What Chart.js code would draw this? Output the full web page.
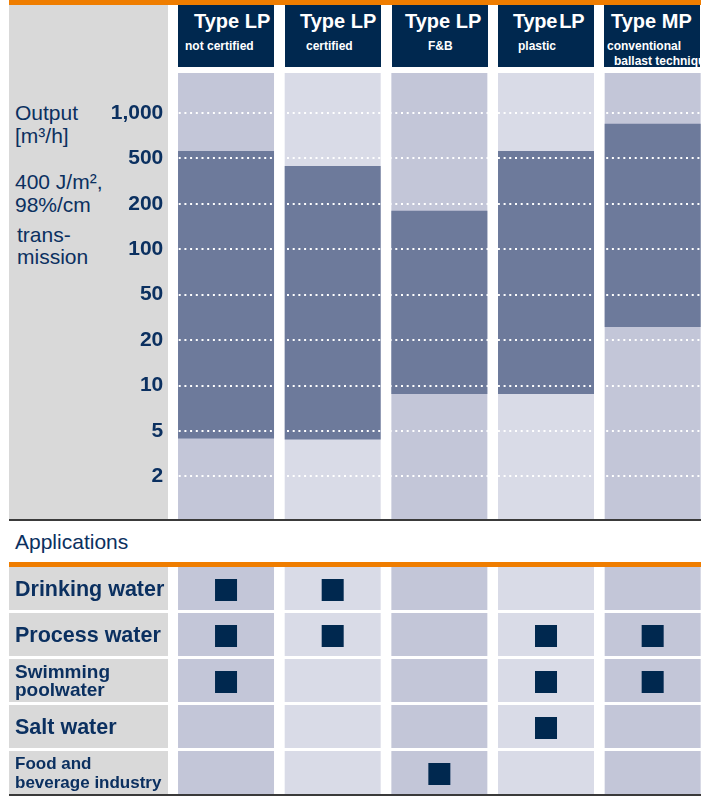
<!DOCTYPE html>
<html lang="en">
<head>
    <meta charset="UTF-8">
    <title>UV systems - output and applications</title>
    <script src="https://cdn.jsdelivr.net/npm/chart.js"></script>
    <style>
        body {
            margin: 0;
            padding: 0;
            background: #fff;
            overflow: hidden;
            font-family: "Liberation Sans", Arial, sans-serif;
            color: #0b3060;
        }
        .page {
            position: relative;
            width: 706px;
            height: 796px;
        }
        .abs { position: absolute; }
        .orange { background: #ef7d00; }
        .rule { background: #3a3a3a; }
        .panel { background: #d9d9d9; }
        .head {
            position: absolute;
            top: 5px;
            width: 96px;
            height: 62px;
            background: #00284f;
            color: #fff;
            font-weight: bold;
        }
        .head .t {
            position: absolute;
            top: 5.5px;
            font-size: 20px;
            line-height: 20px;
            white-space: nowrap;
        }
        .head .s {
            position: absolute;
            top: 34px;
            font-size: 12px;
            line-height: 15px;
            white-space: nowrap;
        }
        .ytitle {
            position: absolute;
            font-size: 21px;
            line-height: 23px;
            white-space: nowrap;
        }
        canvas { position: absolute; left: 0; }
    </style>
</head>
<body>
<div class="page">
    <div class="abs orange" style="left:9px; top:0; width:697px; height:5px;"></div>
    <div class="abs panel" style="left:9px; top:5px; width:159px; height:514px;"></div>

    <div class="head" style="left:178px;"><div class="t" style="left:16px;">Type LP</div><div class="s" style="left:7px;">not certified</div></div>
    <div class="head" style="left:285px;"><div class="t" style="left:15px;">Type LP</div><div class="s" style="left:21px;">certified</div></div>
    <div class="head" style="left:392px;"><div class="t" style="left:13px;">Type LP</div><div class="s" style="left:36px;">F&amp;B</div></div>
    <div class="head" style="left:498px;"><div class="t" style="left:15px; word-spacing:-3px; letter-spacing:-0.3px;">Type LP</div><div class="s" style="left:20px;">plastic</div></div>
    <div class="head" style="left:604px;"><div class="t" style="left:7px;">Type MP</div><div class="s" style="left:3px;">conventional<br><span style="padding-left:7px;">ballast technique</span></div></div>

    <div class="ytitle" style="left:15px; top:101px;">Output</div>
    <div class="ytitle" style="left:15px; top:124px;">[m³/h]</div>
    <div class="ytitle" style="left:15px; top:170px;">400 J/m²,</div>
    <div class="ytitle" style="left:15px; top:193px;">98%/cm</div>
    <div class="ytitle" style="left:17px; top:223px;">trans-</div>
    <div class="ytitle" style="left:17px; top:245px;">mission</div>

    <canvas id="outputChart" width="706" height="447" style="top:73px;"></canvas>
    <div class="abs rule" style="left:9px; top:519px; width:697px; height:2px;"></div>

    <div class="ytitle" style="left:15px; top:530px;">Applications</div>
    <div class="abs orange" style="left:9px; top:562px; width:697px; height:5px;"></div>

    <canvas id="appChart" width="706" height="230" style="top:567px;"></canvas>
    <div class="abs rule" style="left:9px; top:794px; width:697px; height:2px;"></div>
</div>

<script>
    // systems (columns)
    const typeKeys = ["LP not certified", "LP certified", "LP F&B", "LP plastic", "MP conventional"];

    // output range per system [m3/h]
    const outputLow = [4.3, 4.2, 8.8, 8.8, 26];
    const outputHigh = [560, 430, 180, 560, 850];

    // y axis ticks (equally spaced 1-2-5 steps)
    const tickValues = [1000, 500, 200, 100, 50, 20, 10, 5, 2];
    const tickLabels = ["1,000", "500", "200", "100", "50", "20", "10", "5", "2"];

    // applications (rows) and which system suits them
    const appKeys = ["Drinking water", "Process water", "Swimming poolwater", "Salt water", "Food and beverage industry"];
    const appLines = [["Drinking water"], ["Process water"], ["Swimming", "poolwater"], ["Salt water"], ["Food and", "beverage industry"]];
    const drinkingWater = [1, 1, 0, 0, 0];
    const processWater = [1, 1, 0, 1, 1];
    const swimmingPool = [1, 0, 0, 1, 1];
    const saltWater = [0, 0, 0, 1, 0];
    const foodBeverage = [0, 0, 1, 0, 0];

    const navy = "#00284f";
    const textNavy = "#0b3060";
    const colShades = ["#c3c6d8", "#d9dbe7", "#c3c6d8", "#d9dbe7", "#c3c6d8"];
    const barDark = "#6d7a9b";
    const fontFamily = '"Liberation Sans", Arial, sans-serif';
    const appFontSizes = [21.5, 21.5, 19, 21.5, 17];
    const appLineHeights = [1.2, 1.2, 0.96, 1.2, 1.1];

    // the axis puts 1-2-5 steps at equal distances, so map a value to its step
    function toStep(v) {
        const ext = [2000].concat(tickValues, [1]);
        for (let i = 0; i < ext.length - 1; i++) {
            if (v <= ext[i] && v >= ext[i + 1]) {
                return (i - 1) + Math.log(ext[i] / v) / Math.log(ext[i] / ext[i + 1]);
            }
        }
        return v > ext[0] ? -1 : ext.length - 2;
    }

    const yMin = -0.88;
    const yMax = 8.96;
    const axisWidth = 172.7;

    new Chart(document.getElementById("outputChart"), {
        type: "bar",
        data: {
            labels: typeKeys,
            datasets: [
                {
                    data: typeKeys.map((_, i) => [toStep(outputLow[i]), toStep(outputHigh[i])]),
                    backgroundColor: barDark,
                    order: 0
                },
                {
                    data: typeKeys.map(() => [yMin, yMax]),
                    backgroundColor: colShades,
                    order: 1
                }
            ]
        },
        options: {
            responsive: false,
            animation: false,
            events: [],
            layout: { padding: 0 },
            datasets: {
                bar: { grouped: false, barPercentage: 0.9, categoryPercentage: 1, borderWidth: 0 }
            },
            plugins: { legend: { display: false }, tooltip: { enabled: false } },
            scales: {
                x: { display: false },
                y: {
                    reverse: true,
                    min: yMin,
                    max: yMax,
                    afterBuildTicks: scale => {
                        scale.ticks = tickValues.map((_, i) => ({ value: i }));
                    },
                    afterFit: scale => {
                        scale.width = axisWidth;
                        scale.paddingTop = 0;
                        scale.paddingBottom = 0;
                    },
                    grid: { color: "#ffffff", lineWidth: 2, drawTicks: false, z: 1 },
                    border: { display: false, dash: [2, 3.7] },
                    ticks: {
                        autoSkip: false,
                        padding: 9.4,
                        color: textNavy,
                        font: { family: fontFamily, weight: "bold", size: 21 },
                        callback: (value, index) => tickLabels[index]
                    }
                }
            }
        }
    });

    // grey label cells and coloured cells behind the squares
    const cellPlugin = {
        id: "cells",
        beforeDraw(chart) {
            const ctx = chart.ctx;
            const xs = chart.scales.x;
            const ys = chart.scales.y;
            const rowPitch = ys.height / appKeys.length;
            const colPitch = xs.width / typeKeys.length;
            ctx.save();
            appKeys.forEach((_, r) => {
                const top = ys.getPixelForValue(r) - rowPitch / 2;
                const h = rowPitch - 3;
                ctx.fillStyle = "#d9d9d9";
                ctx.fillRect(9, top, 159, h);
                typeKeys.forEach((_, c) => {
                    const w = colPitch * 0.9;
                    ctx.fillStyle = colShades[c];
                    ctx.fillRect(xs.getPixelForValue(c) - w / 2, top, w, h);
                });
            });
            ctx.restore();
        }
    };

    const appRows = [drinkingWater, processWater, swimmingPool, saltWater, foodBeverage];
    const points = [];
    appRows.forEach((row, r) => {
        row.forEach((flag, c) => {
            if (flag) points.push({ x: typeKeys[c], y: appKeys[r] });
        });
    });

    new Chart(document.getElementById("appChart"), {
        type: "scatter",
        data: {
            datasets: [{
                data: points,
                pointStyle: "rect",
                pointRadius: 15.56,
                borderWidth: 0,
                backgroundColor: navy
            }]
        },
        options: {
            responsive: false,
            animation: false,
            events: [],
            layout: { autoPadding: false, padding: { left: 15, top: 0, right: 0, bottom: 0 } },
            plugins: { legend: { display: false }, tooltip: { enabled: false } },
            scales: {
                x: { type: "category", labels: typeKeys, offset: true, display: false },
                y: {
                    type: "category",
                    labels: appKeys,
                    offset: true,
                    afterFit: scale => {
                        scale.width = axisWidth - 15;
                        scale.paddingTop = 0;
                        scale.paddingBottom = 0;
                    },
                    grid: { display: false, drawTicks: false },
                    border: { display: false },
                    ticks: {
                        autoSkip: false,
                        crossAlign: "far",
                        padding: 0,
                        color: textNavy,
                        callback: (value, index) => appLines[index],
                        font: ctx => ({
                            family: fontFamily,
                            weight: "bold",
                            size: appFontSizes[ctx.index],
                            lineHeight: appLineHeights[ctx.index]
                        })
                    }
                }
            }
        },
        plugins: [cellPlugin]
    });
</script>
</body>
</html>
